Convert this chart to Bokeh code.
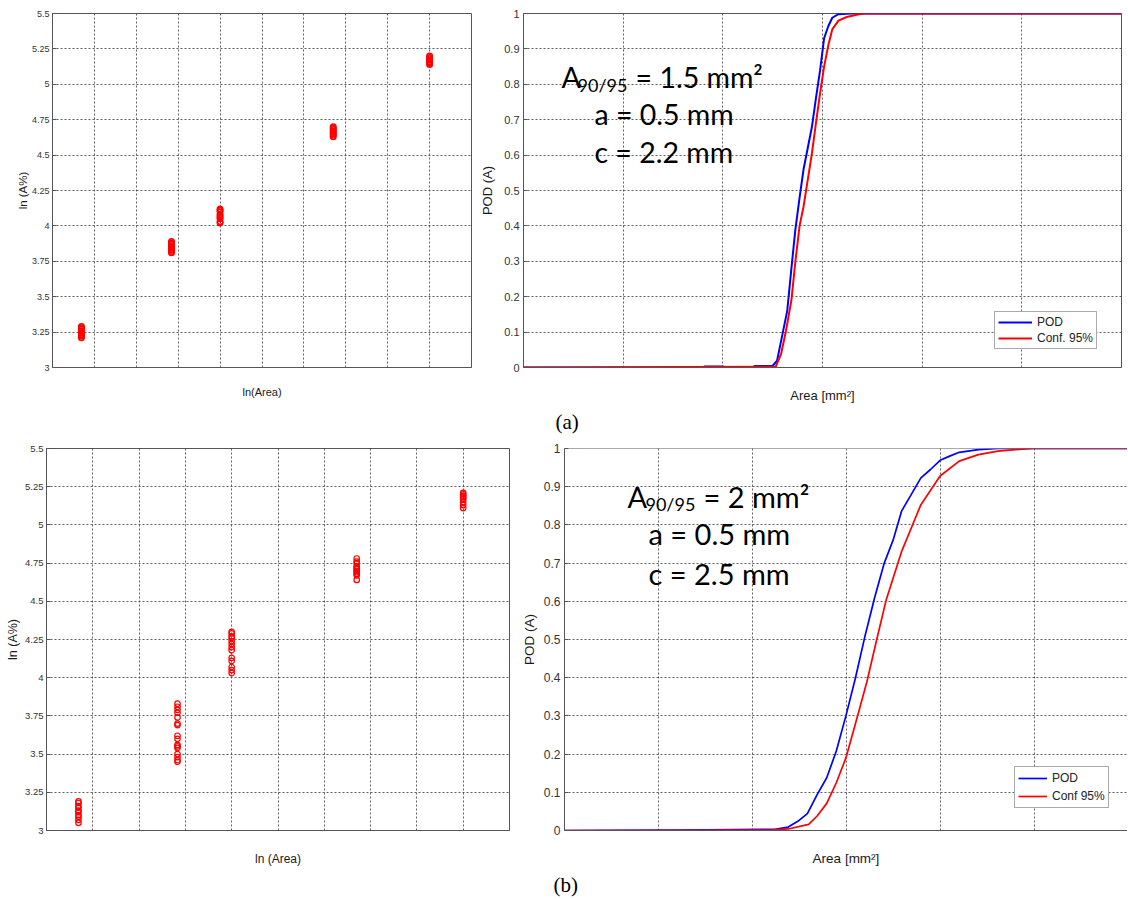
from bokeh.plotting import figure
from bokeh.layouts import column, row
from bokeh.models import FixedTicker, Label, Span, Title
from bokeh.embed import file_html
from bokeh.resources import INLINE

# ---------------- data ----------------
# (a) scatter: ln(Area) level of each cluster and ln(A%) readings
a_lnarea = [0.69, 2.84, 4.0, 6.7, 9.0]
a_c1 = [3.21, 3.22, 3.23, 3.24, 3.25, 3.26, 3.27, 3.28, 3.29]
a_c2 = [3.81, 3.82, 3.83, 3.84, 3.85, 3.86, 3.87, 3.88, 3.89]
a_c3 = [4.02, 4.03, 4.05, 4.06, 4.07, 4.08, 4.10, 4.11, 4.12]
a_c4 = [4.63, 4.64, 4.65, 4.66, 4.67, 4.68, 4.69, 4.70]
a_c5 = [5.14, 5.15, 5.16, 5.17, 5.18, 5.19, 5.20]

# (b) scatter
b_lnarea = [0.69, 2.83, 4.0, 6.7, 9.0]
b_c1 = [3.05, 3.07, 3.09, 3.10, 3.12, 3.13, 3.15, 3.16, 3.18, 3.19]
b_c2 = [3.45, 3.46, 3.48, 3.50, 3.54, 3.55, 3.56, 3.60, 3.62, 3.69, 3.70,
        3.74, 3.77, 3.79, 3.81, 3.83]
b_c3 = [4.03, 4.05, 4.07, 4.11, 4.13, 4.18, 4.20, 4.22, 4.24, 4.26, 4.27,
        4.29, 4.30]
b_c4 = [4.64, 4.67, 4.68, 4.69, 4.70, 4.71, 4.72, 4.73, 4.75, 4.76, 4.78]
b_c5 = [5.11, 5.13, 5.15, 5.17, 5.18, 5.19, 5.20, 5.21]

lnarea_grid = [1, 2, 3, 4, 5, 6, 7, 8, 9]
lnA_ticks = [3, 3.25, 3.5, 3.75, 4, 4.25, 4.5, 4.75, 5, 5.25, 5.5]
lnA_tick_labels = ["3", "3.25", "3.5", "3.75", "4", "4.25", "4.5", "4.75",
                   "5", "5.25", "5.5"]

# (a) POD curves
a_pod_x = [0, 0.90, 0.91, 1.00, 1.01, 1.15, 1.16, 1.25, 1.272, 1.296, 1.323,
           1.344, 1.364, 1.385, 1.405, 1.426, 1.447, 1.467, 1.488, 1.508,
           1.529, 1.549, 1.580, 1.642, 3.0]
a_pod_y = [0, 0, 0.003, 0.003, 0.001, 0.001, 0.004, 0.005, 0.019, 0.085, 0.16,
           0.28, 0.39, 0.48, 0.56, 0.62, 0.68, 0.76, 0.84, 0.93,
           0.964, 0.988, 0.998, 1.0, 1.0]
a_conf_x = [0, 1.265, 1.292, 1.317, 1.344, 1.364, 1.385, 1.405, 1.426, 1.447,
            1.467, 1.488, 1.508, 1.529, 1.549, 1.580, 1.621, 1.683, 1.714, 3.0]
a_conf_y = [0, 0.002, 0.038, 0.104, 0.19, 0.30, 0.40, 0.455, 0.53, 0.605,
            0.69, 0.775, 0.85, 0.91, 0.955, 0.98, 0.99, 0.998, 1.0, 1.0]

# (b) POD curves
b_pod_x = [0, 0.60, 1.119, 1.19, 1.241, 1.292, 1.344, 1.395, 1.446, 1.497,
           1.548, 1.599, 1.650, 1.701, 1.748, 1.793, 1.845, 1.896, 1.947,
           1.998, 2.049, 2.100, 2.202, 2.305, 3.0]
b_pod_y = [0, 0.001, 0.003, 0.009, 0.024, 0.044, 0.094, 0.138, 0.208, 0.30,
           0.40, 0.51, 0.61, 0.70, 0.76, 0.836, 0.88, 0.923, 0.945,
           0.969, 0.98, 0.99, 0.997, 1.0, 1.0]
b_conf_x = [0, 1.098, 1.19, 1.299, 1.344, 1.395, 1.446, 1.497, 1.548, 1.609,
            1.661, 1.712, 1.793, 1.896, 1.998, 2.100, 2.202, 2.305, 2.397,
            2.495, 3.0]
b_conf_y = [0, 0.001, 0.004, 0.016, 0.038, 0.071, 0.125, 0.19, 0.28, 0.39,
            0.50, 0.605, 0.73, 0.853, 0.928, 0.967, 0.984, 0.993, 0.997,
            1.0, 1.0]

area_grid = [0.5, 1, 1.5, 2, 2.5]
pod_ticks = [0, 0.1, 0.2, 0.3, 0.4, 0.5, 0.6, 0.7, 0.8, 0.9, 1]
pod_tick_labels = ["0", "0.1", "0.2", "0.3", "0.4", "0.5", "0.6", "0.7",
                   "0.8", "0.9", "1"]

# ---------------- helpers ----------------
AXIS_FONT = "Liberation Sans"
NOTE_FONT = "Lato"


def base_fig(w, h, xr, yr, bl, br, bt, bb):
    p = figure(width=w, height=h, x_range=xr, y_range=yr, title=None,
               toolbar_location=None, output_backend="svg",
               min_border_left=bl, min_border_right=br,
               min_border_top=bt, min_border_bottom=bb)
    p.outline_line_color = "#555555"
    p.outline_line_width = 1
    p.background_fill_color = "white"
    p.border_fill_color = "white"
    return p


def style_axes(p, xgrid, yticks, ylabels, xlabel, ylabel, tick_fs, xl_fs, yl_fs,
               y_tick_std, y_std, x_std):
    xa = p.xaxis[0]
    ya = p.yaxis[0]
    xa.ticker = FixedTicker(ticks=[])
    p.xgrid[0].ticker = FixedTicker(ticks=xgrid)
    ya.ticker = FixedTicker(ticks=yticks)
    ya.major_label_overrides = {t: l for t, l in zip(yticks, ylabels)}
    for ax in (xa, ya):
        ax.axis_line_color = "#555555"
        ax.major_tick_line_color = "#555555"
        ax.minor_tick_line_color = None
        ax.major_tick_out = 0
        ax.major_tick_in = 4
        ax.major_label_text_font = AXIS_FONT
        ax.major_label_text_font_size = tick_fs
        ax.major_label_text_color = "#333333"
        ax.axis_label_text_font = AXIS_FONT
        ax.axis_label_text_font_style = "normal"
        ax.axis_label_text_color = "#1a1a1a"
    xa.axis_label = xlabel
    ya.axis_label = ylabel
    xa.axis_label_text_font_size = xl_fs
    ya.axis_label_text_font_size = yl_fs
    ya.major_label_standoff = y_tick_std
    ya.axis_label_standoff = y_std
    xa.major_label_standoff = 0
    xa.axis_label_standoff = x_std
    for g in (p.xgrid[0], p.ygrid[0]):
        g.grid_line_color = "#444444"
        g.grid_line_dash = "2 2"
        g.grid_line_width = 1
        g.grid_line_alpha = 0.85


def scatter_panel(w, h, bl, br, bt, bb, xs, clusters, xlabel, tick_fs, xl_fs,
                  yl_fs, y_tick_std, y_std, x_std, msize, mlw):
    p = base_fig(w, h, (0, 10), (3, 5.5), bl, br, bt, bb)
    style_axes(p, lnarea_grid, lnA_ticks, lnA_tick_labels, xlabel, "ln (A%)",
               tick_fs, xl_fs, yl_fs, y_tick_std, y_std, x_std)
    for xv, ys in zip(xs, clusters):
        p.scatter([xv] * len(ys), ys, marker="circle", size=msize,
                  line_color="#ff0000", fill_color=None, line_width=mlw)
    return p


def note(p, x, y, text, size, dx=0, dy=0):
    p.add_layout(Label(x=x, y=y, x_offset=dx, y_offset=dy + 10, text=text,
                       text_font=NOTE_FONT, text_font_size=size,
                       text_color="#000000", text_baseline="alphabetic",
                       text_align="left"))


def pod_panel(w, h, x_end, bl, br, bt, bb, px, py, cx, cy, conf_label,
              tick_fs, xl_fs, yl_fs, y_std, x_std, lw):
    p = base_fig(w, h, (0, x_end), (0, 1), bl, br, bt, bb)
    style_axes(p, area_grid, pod_ticks, pod_tick_labels, "Area [mm²]",
               "POD (A)", tick_fs, xl_fs, yl_fs, 4, y_std, x_std)
    p.line(px, py, line_color="#0000ff", line_width=lw, legend_label="POD")
    p.line(cx, cy, line_color="#ff0000", line_width=lw, legend_label=conf_label)
    return p


def style_legend(p, loc, fs, gw, lh, standoff, spacing, padding):
    lg = p.legend[0]
    lg.location = loc
    lg.label_text_font = AXIS_FONT
    lg.label_text_font_size = fs
    lg.label_text_color = "#222222"
    lg.glyph_width = gw
    lg.glyph_height = lh
    lg.label_height = lh
    lg.label_standoff = standoff
    lg.padding = padding
    lg.spacing = spacing
    lg.margin = 0
    lg.border_line_color = "#555555"
    lg.border_line_width = 1
    lg.background_fill_color = "white"
    lg.background_fill_alpha = 1


def panel_tag(p, text, offset, standoff):
    p.add_layout(Title(text=text, align="left", offset=offset,
                       standoff=standoff, text_font="Liberation Serif",
                       text_font_size="21px", text_font_style="normal",
                       text_color="#000000"), "below")


# ---------------- (a) ----------------
p1 = scatter_panel(476, 435, 52, 5, 13, 67, a_lnarea,
                   [a_c1, a_c2, a_c3, a_c4, a_c5], "ln(Area)",
                   "9px", "11px", "11.5px", 3, 0, 18, 5.5, 1.5)

p2 = pod_panel(651, 435, 3.0, 47, 6, 13, 67, a_pod_x, a_pod_y, a_conf_x,
               a_conf_y, "Conf. 95%", "11px", "13px", "13px", 6, 20, 2)
style_legend(p2, (471, 18), "12px", 34, 14, 5, 2, 3)
note(p2, 0.191, 0.792, "A", "28.5px")
note(p2, 0.191, 0.792, "90/95", "18px", dx=16, dy=-8)
note(p2, 0.191, 0.792, "= 1.5 mm²", "28.5px", dx=74)
note(p2, 0.356, 0.687, "a = 0.5 mm", "28.5px")
note(p2, 0.356, 0.580, "c = 2.2 mm", "28.5px")
panel_tag(p2, "(a)", 32, 4)

# ---------------- (b) ----------------
p3 = scatter_panel(514, 463, 46, 5, 13, 68, b_lnarea,
                   [b_c1, b_c2, b_c3, b_c4, b_c5], "ln (Area)",
                   "9.5px", "12px", "12.5px", 3, 2, 21, 5.5, 1.2)

p4 = pod_panel(613, 463, 2.995, 50, 0, 13, 68, b_pod_x, b_pod_y, b_conf_x,
               b_conf_y, "Conf 95%", "12px", "13.5px", "13.5px", 4, 20, 1.7)
p4.outline_line_color = None
p4.add_layout(Span(location=1, dimension="width", line_color="#555555",
                   line_width=1))
style_legend(p4, (450, 22), "12px", 29, 16, 5, 2, 3)
note(p4, 0.335, 0.848, "A", "29px")
note(p4, 0.335, 0.848, "90/95", "18px", dx=18, dy=-7)
note(p4, 0.335, 0.848, "= 2 mm²", "29px", dx=76)
note(p4, 0.447, 0.751, "a = 0.5 mm", "29px")
note(p4, 0.447, 0.647, "c = 2.5 mm", "29px")
panel_tag(p4, "(b)", -11, 4)

layout = column(row(p1, p2), row(p3, p4))

open("out.html", "w").write(file_html(layout, INLINE))
